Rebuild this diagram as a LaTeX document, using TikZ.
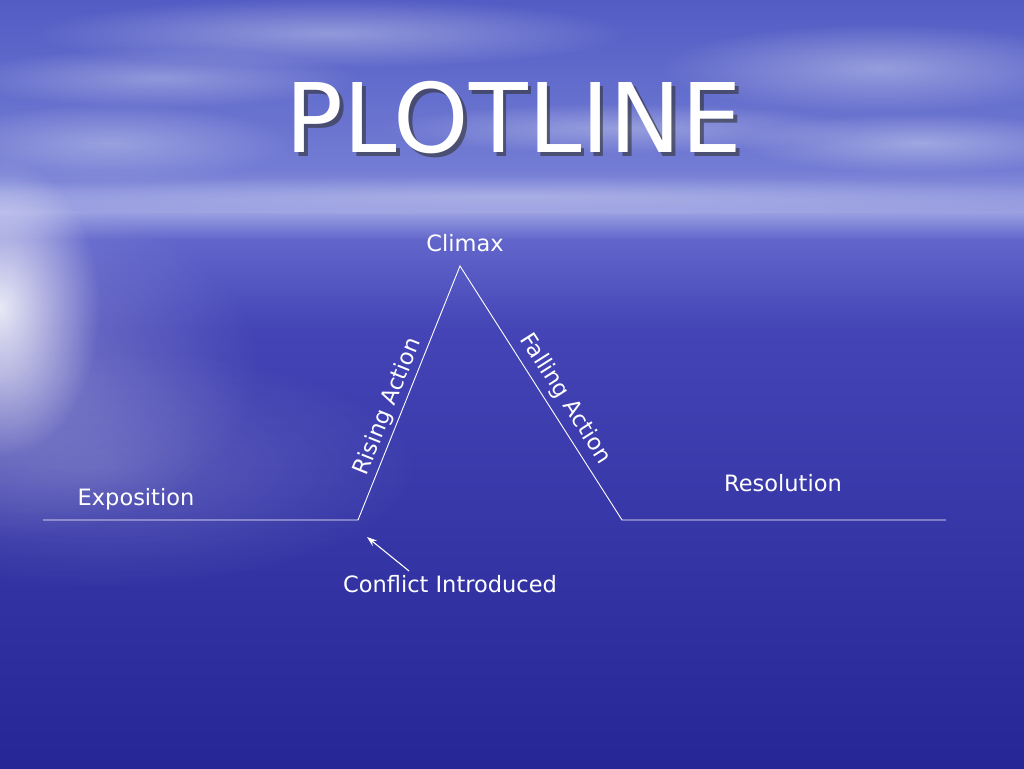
\documentclass[tikz,border=0pt]{standalone}
\usepackage{fontspec}
\setmainfont{DejaVu Sans}
\usetikzlibrary{fadings,arrows.meta}
\definecolor{sky1}{RGB}{82,92,196}
\definecolor{sky2}{RGB}{115,125,212}
\definecolor{hor}{RGB}{155,160,226}
\definecolor{sea1}{RGB}{98,102,203}
\definecolor{sea2}{RGB}{68,68,182}
\definecolor{sea3}{RGB}{38,38,150}
\tikzfading[name=softfade, inner color=transparent!0, outer color=transparent!100]
\tikzset{
  plotline/.style={white, line width=0.9pt},
  lbl/.style={text=white, font=\fontsize{22.5}{26}\selectfont, inner sep=2pt},
  cloud/.style={white, fill opacity=#1, path fading=softfade},
  cloud/.default=0.3
}
\begin{document}
\begin{tikzpicture}[x=1pt,y=1pt]
\useasboundingbox (0,0) rectangle (1024,768);
% background bands (top-down)
\fill[top color=sky1, bottom color=sky2] (0,768) rectangle (1024,598);
\fill[top color=sky2, bottom color=hor] (0,598.2) rectangle (1024,556);
\fill[top color=hor, bottom color=sea1] (0,556.2) rectangle (1024,528);
\fill[top color=sea1, bottom color=sea2] (0,528.2) rectangle (1024,438);
\fill[top color=sea2, bottom color=sea3] (0,438.2) rectangle (1024,0);
% clouds
\fill[cloud=0.35] (330,735) ellipse (300 and 35);
\fill[cloud=0.3] (160,690) ellipse (200 and 30);
\fill[cloud=0.35] (880,700) ellipse (220 and 45);
\fill[cloud=0.3] (110,625) ellipse (180 and 40);
\fill[cloud=0.3] (620,640) ellipse (240 and 25);
\fill[cloud=0.35] (920,625) ellipse (180 and 30);
\fill[cloud=0.25] (512,572) ellipse (700 and 20);
% sun glare at left
\fill[cloud=0.85] (0,460) ellipse (100 and 150);
\fill[cloud=0.3] (0,400) ellipse (260 and 170);
\fill[cloud=0.18] (100,300) ellipse (320 and 120);
% title
\node[text=black!80, opacity=0.6, font=\fontsize{96}{110}\selectfont] at (517.5,646.5) {PLOTLINE};
\node[text=white, font=\fontsize{96}{110}\selectfont] (title) at (514,650) {PLOTLINE};
% plot line
\coordinate (l) at (43,248);
\coordinate (c) at (358,248);
\coordinate (p) at (460,502);
\coordinate (f) at (622,248);
\coordinate (r) at (946,248);
\draw[plotline] (l) -- (c)
  -- node[pos=0.425, sloped, anchor=south, lbl, inner sep=3pt] (rise) {Rising Action} (p)
  -- node[pos=0.56, sloped, anchor=south, lbl, inner sep=6pt] (fall) {Falling Action} (f)
  -- (r);
\node[lbl] (climax) at (465,525) {Climax};
\node[lbl] (expo) at (136,269) {Exposition};
\node[lbl] (reso) at (783,285) {Resolution};
\node[lbl] (conf) at (450,184) {Conflict Introduced};
\coordinate (tip) at (367,231);
\draw[white, line width=1.1pt, -{Stealth[length=10pt,width=7pt]}] (409,197) -- (tip);
\end{tikzpicture}
\end{document}
